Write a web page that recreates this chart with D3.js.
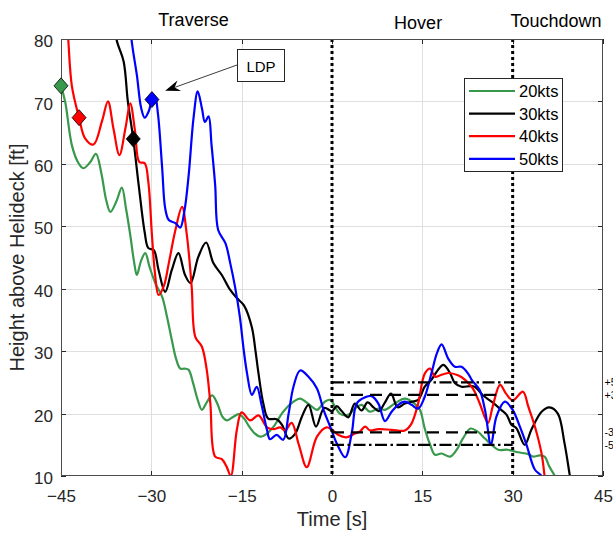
<!DOCTYPE html>
<html><head><meta charset="utf-8">
<script src="https://cdn.jsdelivr.net/npm/d3@7"></script>
<style>
body{margin:0;background:#fff;}
svg{display:block;font-family:"Liberation Sans",Arial,Helvetica,sans-serif;}
</style></head><body>
<svg id="c" width="613" height="534"></svg>
<script>
// ---------------- data ----------------
const seriesNames = ["20kts", "30kts", "40kts", "50kts"];
const seriesColors = ["#38984c", "#000000", "#ff0000", "#0000ff"];

const green20 = [[-45,72.5],[-44.3,69.9],[-43.2,63.0],[-42.2,60.3],[-41.3,59.3],[-40.2,60.2],[-39.2,61.6],[-38.3,58.5],[-37.5,54.2],[-36.8,52.3],[-35.8,54.0],[-34.9,56.2],[-34.2,52.8],[-33.5,48.6],[-32.9,44.5],[-32.4,42.2],[-31.7,44.5],[-31.0,45.7],[-30.3,43.5],[-29.3,40.8],[-28.2,38.7],[-27.4,35.5],[-26.6,31.8],[-25.9,28.8],[-25.2,27.2],[-24.4,27.2],[-23.8,27.0],[-23.1,25.0],[-22.3,22.2],[-21.6,20.6],[-20.8,21.8],[-19.9,22.9],[-19.0,21.5],[-18.2,19.5],[-17.5,18.9],[-16.5,19.4],[-15.5,19.9],[-14.6,19.2],[-13.8,18.0],[-12.8,16.8],[-11.9,16.3],[-10.8,16.8],[-9.7,17.9],[-8.1,20.3],[-6.4,21.9],[-5.3,22.4],[-3.7,21.4],[-2.5,20.6],[-1.2,21.9],[-0.3,22.2],[0.5,21.1],[1.3,20.0],[2.7,19.8],[3.8,20.8],[4.9,21.4],[6.3,20.3],[7.7,20.8],[8.8,20.6],[10.4,21.6],[12.1,22.4],[13.7,21.6],[14.6,20.6],[15.4,17.6],[16.3,15.0],[17.1,13.4],[18.2,13.6],[19.6,13.1],[20.7,14.2],[21.8,16.1],[23.0,17.6],[24.2,17.1],[25.4,16.0],[26.5,15.0],[27.6,14.2],[29.2,14.2],[30.9,13.8],[32.6,13.5],[33.4,13.1],[34.5,13.3],[35.3,13.1],[36.1,11.5],[37.0,10.0],[37.6,8.5]];

const black30 = [[-36.2,85],[-35.8,80],[-34.6,76.4],[-33.9,70.0],[-33.0,64.0],[-32.1,56.6],[-31.1,49.0],[-30.5,46.5],[-29.6,46.2],[-28.8,43.0],[-27.7,39.5],[-26.6,43.0],[-25.5,45.7],[-24.4,42.2],[-23.5,40.9],[-22.2,45.1],[-20.9,47.4],[-19.7,44.1],[-18.3,42.2],[-16.9,39.8],[-15.8,38.5],[-14.6,37.3],[-13.3,33.8],[-12.7,30.0],[-12.2,26.4],[-11.4,21.6],[-10.6,19.2],[-9.2,19.1],[-8.3,18.2],[-7.2,16.0],[-6.1,16.8],[-5.0,19.5],[-3.9,21.4],[-2.65,17.9],[-1.3,20.9],[0.0,20.4],[0.8,21.2],[1.6,20.4],[2.7,19.4],[3.8,21.6],[4.9,20.5],[5.9,21.8],[6.9,21.0],[7.8,20.4],[8.8,21.8],[9.8,23.2],[10.9,21.0],[12.1,21.6],[13.2,21.9],[14.3,22.2],[15.4,24.3],[16.5,25.4],[17.6,27.0],[18.5,27.8],[19.6,26.5],[20.4,24.9],[21.5,24.3],[22.9,24.4],[23.7,24.3],[25.1,22.9],[26.5,21.9],[28.1,20.6],[29.0,19.8],[29.8,18.2],[30.6,17.7],[32.0,15.0],[33.1,17.4],[34.8,20.3],[36.1,21.0],[37.5,20.0],[38.6,15.3],[39.5,10.0],[40.0,7.0]];

const red40 = [[-44.1,84],[-43.8,80],[-43.2,72.5],[-42.0,67.4],[-41.0,64.1],[-39.6,63.1],[-38.2,66.8],[-37.2,70.0],[-36.3,65.7],[-35.3,61.4],[-34.3,65.7],[-33.5,69.7],[-32.7,65.2],[-32.0,60.3],[-31.1,60.1],[-30.5,57.1],[-29.9,48.6],[-29.4,42.5],[-28.8,39.0],[-27.9,40.5],[-27.1,44.1],[-26.0,49.4],[-24.9,53.1],[-24.1,48.6],[-23.3,40.3],[-22.7,32.3],[-21.6,30.7],[-20.8,27.0],[-20.2,21.6],[-19.4,13.1],[-18.3,12.7],[-17.5,11.5],[-16.8,10.0],[-15.8,17.4],[-15.0,20.2],[-13.6,18.9],[-12.2,19.7],[-10.8,17.8],[-9.7,17.5],[-8.6,17.8],[-7.8,17.3],[-6.7,18.5],[-5.5,15.0],[-4.2,11.4],[-2.5,16.3],[-0.9,17.8],[0.0,17.4],[1.0,16.6],[2.4,16.2],[3.8,16.8],[4.6,17.1],[5.5,17.9],[6.3,17.3],[7.7,17.5],[9.9,17.4],[12.1,17.3],[13.2,18.4],[14.3,21.6],[15.4,26.4],[16.3,27.2],[17.1,25.9],[17.9,26.1],[19.3,26.5],[21.0,26.1],[22.1,25.4],[23.4,24.0],[24.5,21.7],[25.9,18.5],[26.7,21.2],[27.9,24.6],[28.9,23.2],[30.0,22.1],[31.7,23.5],[32.6,21.1],[33.7,17.9],[34.8,13.6],[35.3,10.0],[35.7,7.0]];

const blue50 = [[-33.6,85],[-33.3,80],[-32.4,74.2],[-31.7,69.0],[-31.1,67.4],[-30.4,68.5],[-29.9,70.3],[-29.4,70.8],[-28.9,68.0],[-28.2,59.3],[-27.7,52.9],[-27.1,51.0],[-26.0,50.5],[-25.2,49.8],[-24.5,52.5],[-23.8,58.2],[-23.0,67.3],[-22.3,71.6],[-21.6,68.9],[-21.1,66.7],[-20.5,67.6],[-20.0,63.0],[-19.4,56.6],[-18.9,49.4],[-17.7,47.3],[-16.9,44.1],[-16.1,40.3],[-15.3,35.5],[-14.7,30.5],[-14.1,26.4],[-13.3,23.0],[-12.5,24.3],[-11.7,21.4],[-10.8,17.4],[-10.3,15.9],[-9.2,16.6],[-8.1,15.8],[-7.2,20.0],[-6.4,24.3],[-5.3,26.9],[-3.9,25.9],[-2.5,24.0],[-1.4,20.6],[-0.3,17.9],[0.8,15.2],[2.2,13.0],[3.3,17.0],[4.1,21.6],[5.5,22.6],[6.6,22.8],[7.7,21.6],[8.8,18.8],[9.9,20.3],[11.0,21.4],[12.1,21.9],[13.2,21.4],[14.3,20.8],[15.4,22.7],[16.5,26.4],[17.4,29.6],[18.2,31.1],[19.3,28.8],[20.4,27.5],[21.5,27.5],[22.6,26.4],[23.2,25.4],[24.5,23.8],[25.4,20.6],[26.4,15.0],[27.3,19.5],[28.7,21.9],[30.0,20.6],[31.2,17.9],[32.3,15.0],[33.7,11.0],[34.8,10.0],[35.3,8.0]];

const seriesData = [green20, black30, red40, blue50];
const ldpPoints = [[-45,72.5],[-33.0,64.0],[-42.0,67.4],[-29.9,70.3]];

const xTicks = [-45, -30, -15, 0, 15, 30, 45];
const yTicks = [10, 20, 30, 40, 50, 60, 70, 80];
const phaseNames = ["Traverse", "Hover", "Touchdown"];
const phaseCenters = [-23.0, 14.3, 37.2];
const phaseLines = [0, 30];
const outerBand = [25, 15];      // dash-dot, 0..30 s
const innerBand = [23, 17];      // dashed, 0..28 s
const bandLabels = ["+5 ft", "+3 ft", "-3 ft", "-5 ft"];
const bandLabelValues = [25, 23, 17, 15];
const ldpArrowTip = [-27.7, 71.7];

// ---------------- layout ----------------
const svg = d3.select("#c");
const L = 61, R = 603, T = 39, B = 476;
const x = d3.scaleLinear().domain([-45, 45]).range([L, R]);
const y = d3.scaleLinear().domain([10, 80]).range([B, T]);
const axisCol = "#262626";

svg.append("defs").append("clipPath").attr("id", "clip")
  .append("rect").attr("x", L).attr("y", T).attr("width", R - L).attr("height", B - T);

// grid
const grid = svg.append("g").attr("stroke", "#dfdfdf").attr("stroke-width", 1).attr("shape-rendering", "crispEdges");
grid.selectAll(".gx").data(xTicks.slice(1, -1)).join("line")
  .attr("x1", d => Math.round(x(d)) + 0.5).attr("x2", d => Math.round(x(d)) + 0.5).attr("y1", T).attr("y2", B);
grid.selectAll(".gy").data(yTicks.slice(1, -1)).join("line")
  .attr("y1", d => Math.round(y(d)) + 0.5).attr("y2", d => Math.round(y(d)) + 0.5).attr("x1", L).attr("x2", R);

// axes
function styleAxis(g) {
  g.select(".domain").remove();
  g.selectAll(".tick line").attr("stroke", axisCol).attr("shape-rendering", "crispEdges");
  g.selectAll(".tick text").attr("fill", axisCol).style("font-size", "17px")
    .style("font-family", '"Liberation Sans",Arial,sans-serif');
}
svg.append("g").attr("transform", `translate(0,${B})`)
  .call(d3.axisBottom(x).tickValues(xTicks).tickSize(-5).tickPadding(14).tickFormat(d3.format("d")))
  .call(styleAxis);
svg.append("g").attr("transform", `translate(0,${T})`)
  .call(d3.axisTop(x).tickValues(xTicks).tickSize(-5).tickFormat(""))
  .call(styleAxis);
svg.append("g").attr("transform", `translate(${L},0)`)
  .call(d3.axisLeft(y).tickValues(yTicks).tickSize(-5).tickPadding(8).tickFormat(d3.format("d")))
  .call(styleAxis)
  .call(g => g.selectAll(".tick text").attr("dy", "0.45em"));
svg.append("g").attr("transform", `translate(${R},0)`)
  .call(d3.axisRight(y).tickValues(yTicks).tickSize(-5).tickFormat(""))
  .call(styleAxis);

// curves
const line = d3.line().x(d => x(d[0])).y(d => y(d[1])).curve(d3.curveCatmullRom.alpha(0.5));
const curves = svg.append("g").attr("clip-path", "url(#clip)");
seriesData.forEach((s, i) => {
  curves.append("path").attr("d", line(s)).attr("fill", "none")
    .attr("stroke", seriesColors[i]).attr("stroke-width", 2.2).attr("stroke-linejoin", "round");
});

// reference lines
const ref = svg.append("g").attr("stroke", "#000").attr("fill", "none");
outerBand.forEach(v => ref.append("line").attr("x1", x(0)).attr("x2", x(30)).attr("y1", y(v)).attr("y2", y(v))
  .attr("stroke-width", 2.2).attr("stroke-dasharray", "12,3.5,2.5,3.5"));
innerBand.forEach(v => ref.append("line").attr("x1", x(0)).attr("x2", x(28)).attr("y1", y(v)).attr("y2", y(v))
  .attr("stroke-width", 2.2).attr("stroke-dasharray", "12,7"));
phaseLines.forEach(v => ref.append("line").attr("x1", x(v)).attr("x2", x(v)).attr("y1", T).attr("y2", B)
  .attr("stroke-width", 3).attr("stroke-dasharray", "3,3"));

// box
svg.append("rect").attr("x", L + 0.5).attr("y", T + 0.5).attr("width", R - L - 1).attr("height", B - T - 1)
  .attr("fill", "none").attr("stroke", "#4d4d4d").attr("stroke-width", 1).attr("shape-rendering", "crispEdges");

// band labels (cut off by the page edge, as in the reference)
svg.append("g").selectAll("text").data(bandLabels).join("text")
  .attr("x", x(45) + 1.5).attr("y", (d, i) => y(bandLabelValues[i]))
  .attr("dominant-baseline", "central").style("font-size", "10.5px").attr("fill", "#000").text(d => d);

// LDP markers
const mk = svg.append("g");
ldpPoints.forEach((p, i) => {
  const cx = x(p[0]), cy = y(p[1]), hw = 7, hh = 8;
  mk.append("path").attr("d", `M${cx},${cy - hh}L${cx + hw},${cy}L${cx},${cy + hh}L${cx - hw},${cy}Z`)
    .attr("fill", seriesColors[i]).attr("stroke", "#000").attr("stroke-width", 0.8);
});

// LDP annotation
const bx = 237, by = 49, bw = 47, bh = 32;
const tip = [x(ldpArrowTip[0]), y(ldpArrowTip[1])];
const st = [bx, by + bh / 2];
const dx = tip[0] - st[0], dy = tip[1] - st[1], len = Math.hypot(dx, dy);
const ux = dx / len, uy = dy / len, px = -uy, py = ux;
const hl = 15, hw2 = 5.5, notch = 10;
svg.append("line").attr("x1", st[0]).attr("y1", st[1]).attr("x2", tip[0] - ux * notch).attr("y2", tip[1] - uy * notch)
  .attr("stroke", "#262626").attr("stroke-width", 0.9);
svg.append("path").attr("d",
  `M${tip[0]},${tip[1]}L${tip[0] - ux * hl + px * hw2},${tip[1] - uy * hl + py * hw2}` +
  `L${tip[0] - ux * notch},${tip[1] - uy * notch}L${tip[0] - ux * hl - px * hw2},${tip[1] - uy * hl - py * hw2}Z`)
  .attr("fill", "#000");
svg.append("rect").attr("x", bx + 0.5).attr("y", by + 0.5).attr("width", bw).attr("height", bh)
  .attr("fill", "#fff").attr("stroke", "#262626").attr("stroke-width", 1);
svg.append("text").attr("x", bx + bw / 2 + 0.5).attr("y", by + bh / 2 + 1).attr("text-anchor", "middle")
  .attr("dominant-baseline", "central").style("font-size", "15px").attr("fill", "#000").text("LDP");

// legend
const lg = svg.append("g");
lg.append("rect").attr("x", 464.5).attr("y", 78.5).attr("width", 98).attr("height", 93)
  .attr("fill", "#fff").attr("stroke", "#262626").attr("stroke-width", 1);
seriesNames.forEach((n, i) => {
  const yy = 91 + i * 22.6;
  lg.append("line").attr("x1", 469).attr("x2", 515).attr("y1", yy).attr("y2", yy)
    .attr("stroke", seriesColors[i]).attr("stroke-width", 2.2);
  lg.append("text").attr("x", 519).attr("y", yy).attr("dominant-baseline", "central")
    .style("font-size", "16.5px").attr("fill", "#000").text(n);
});

// phase labels
const phaseBaselines = [26, 29, 27];
svg.append("g").selectAll("text").data(phaseNames).join("text")
  .attr("x", (d, i) => x(phaseCenters[i])).attr("y", (d, i) => phaseBaselines[i])
  .attr("text-anchor", "middle").style("font-size", "18px").attr("fill", "#000").text(d => d);

// axis labels
svg.append("text").attr("x", (L + R) / 2).attr("y", 526).attr("text-anchor", "middle")
  .style("font-size", "20px").attr("fill", axisCol).text("Time [s]");
svg.append("text").attr("transform", `translate(24,${(T + B) / 2}) rotate(-90)`).attr("text-anchor", "middle")
  .style("font-size", "20px").attr("fill", axisCol).text("Height above Helideck [ft]");
</script>
</body></html>
